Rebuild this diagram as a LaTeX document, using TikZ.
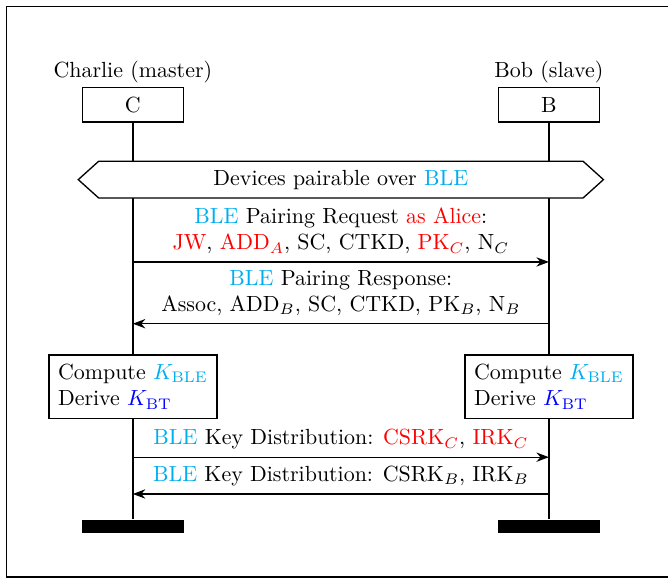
\documentclass[tikz,border=0pt]{standalone}
\usepackage{amsmath}
\usepackage{xcolor}
\usepackage{tikz}
\usetikzlibrary{arrows.meta,positioning,shapes.symbols}

\newcommand{\ble}{\textcolor{cyan}{BLE}}

\tikzset{
    entity/.style={draw, fill=white, minimum width=1.62cm, minimum height=0.55cm},
    computebox/.style={draw, fill=white, align=left, inner sep=4.2pt},
    endbar/.style={fill=black, minimum width=1.64cm, minimum height=0.21cm, inner sep=0pt},
    msglabel/.style={midway, above, align=center}
}

\begin{document}
\begin{tikzpicture}[semithick, >=Stealth]
    \useasboundingbox (0,0) rectangle (10.71,-9.28);
    % outer frame
    \draw (0.10,-0.10) rectangle (10.85,-9.25);

    % Devices with their names
    \node[entity] (C) at (2.13,-1.68) {C};
    \node[entity] (B) at (8.80,-1.68) {B};
    \node[above=-2pt of C] (Cname) {Charlie (master)};
    \node[above=-2pt of B] (Bname) {Bob (slave)};

    % End of lifelines
    \node[endbar] (Cend) at (2.13,-8.44) {};
    \node[endbar] (Bend) at (8.80,-8.44) {};
    \draw (C) -- (Cend);
    \draw (B) -- (Bend);

    % Condition over both lifelines
    \node[draw, fill=white, shape=signal, signal to=east and west, signal pointer angle=84,
          minimum width=8.42cm, minimum height=0.59cm] (pairable) at (5.465,-2.88)
          {Devices pairable over \ble};

    % Message anchors on the lifelines
    \foreach \i/\y in {1/-4.20, 2/-5.19, 3/-7.33, 4/-7.92} {
        \coordinate (c\i) at (2.13,\y);
        \coordinate (b\i) at (8.80,\y);
    }

    % Pairing feature exchange
    \draw[->] (c1) -- (b1) node[msglabel] (req)
        {\ble{} Pairing Request \textcolor{red}{as Alice}:\\
         \textcolor{red}{JW}, \textcolor{red}{ADD$_A$}, SC, CTKD, \textcolor{red}{PK$_C$}, N$_C$};
    \draw[->] (b2) -- (c2) node[msglabel] (resp)
        {\ble{} Pairing Response:\\
         Assoc, ADD$_B$, SC, CTKD, PK$_B$, N$_B$};

    % Key computation
    \node[computebox] (Ckey) at (2.13,-6.20)
        {Compute \textcolor{cyan}{$K_{\text{BLE}}$}\\Derive \textcolor{blue}{$K_{\text{BT}}$}};
    \node[computebox] (Bkey) at (8.80,-6.20)
        {Compute \textcolor{cyan}{$K_{\text{BLE}}$}\\Derive \textcolor{blue}{$K_{\text{BT}}$}};

    % Key distribution
    \draw[->] (c3) -- (b3) node[msglabel] (kdc)
        {\ble{} Key Distribution: \textcolor{red}{CSRK$_C$}, \textcolor{red}{IRK$_C$}};
    \draw[->] (b4) -- (c4) node[msglabel] (kdb)
        {\ble{} Key Distribution: CSRK$_B$, IRK$_B$};
\end{tikzpicture}
\end{document}
